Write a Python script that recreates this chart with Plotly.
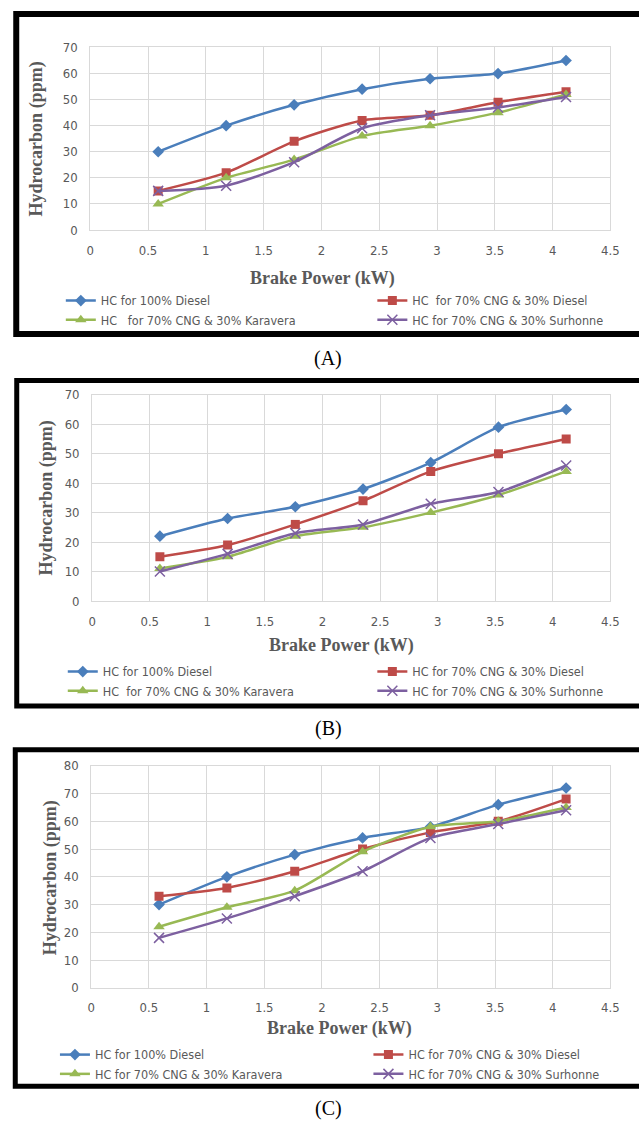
import plotly.graph_objects as go

W, H = 639, 1130

# ---------------- data ----------------
brake_power = [0.588, 1.176, 1.764, 2.352, 2.94, 3.528, 4.116]
x_ticks = [0, 0.5, 1, 1.5, 2, 2.5, 3, 3.5, 4, 4.5]

A_names = ["HC for 100% Diesel",
           "HC\u00a0\u00a0for 70% CNG & 30% Diesel",
           "HC\u00a0\u00a0\u00a0for 70% CNG & 30% Karavera",
           "HC for 70% CNG & 30% Surhonne"]
B_names = ["HC for 100% Diesel",
           "HC for 70% CNG & 30% Diesel",
           "HC\u00a0\u00a0for 70% CNG & 30% Karavera",
           "HC for 70% CNG & 30% Surhonne"]
C_names = ["HC for 100% Diesel",
           "HC for 70% CNG & 30% Diesel",
           "HC for 70% CNG & 30% Karavera",
           "HC for 70% CNG & 30% Surhonne"]

A_diesel = [30, 40, 48, 54, 58, 60, 65]
A_cng_diesel = [15, 22, 34, 42, 44, 49, 53]
A_karavera = [10, 20, 27, 36, 40, 45, 52]
A_surhonne = [15, 17, 26, 39, 44, 47, 51]

B_diesel = [22, 28, 32, 38, 47, 59, 65]
B_cng_diesel = [15, 19, 26, 34, 44, 50, 55]
B_karavera = [11, 15, 22, 25, 30, 36, 44]
B_surhonne = [10, 16, 23, 26, 33, 37, 46]

C_diesel = [30, 40, 48, 54, 58, 66, 72]
C_cng_diesel = [33, 36, 42, 50, 56, 60, 68]
C_karavera = [22, 29, 35, 49, 58, 60, 65]
C_surhonne = [18, 25, 33, 42, 54, 59, 64]

panel_labels = ["(A)", "(B)", "(C)"]
y_max = [70, 70, 80]

# ---------------- styles ----------------
colors = ["#4A7EBB", "#BE4B48", "#98B954", "#7D60A0"]
symbols = ["diamond", "square", "triangle-up", "x-thin"]
msizes = [9, 9, 10, 10]
GRAY = "#595959"
GRID = "#D9D9D9"
SANS = "Liberation Sans Narrow, DejaVu Sans Condensed, Arial Narrow, Liberation Sans, sans-serif"
SERIF = "Liberation Serif, Times New Roman, serif"

# layout in pixels for each panel
panels = [
    dict(px=(88, 619), py=(41, 226), xt=(325, 275), yt=(33, 134), leg_y=307.5,
         leg_x=(65, 383), border=(12.5, 7, 331.5, 6), lab=(331, 356)),
    dict(px=(90, 619), py=(393, 602), xt=(344, 647), yt=(43, 498), leg_y=683.5,
         leg_x=(67, 383), border=(13, 378.5, 708.3, 5), lab=(331, 731)),
    dict(px=(89, 619), py=(769, 994), xt=(342, 1035), yt=(47, 883), leg_y=1071.7,
         leg_x=(59, 379), border=(11.5, 752.7, 1093.7, 5), lab=(331, 1116)),
]

def fx(p):
    return p / W

def fy(p):
    return 1 - p / H

all_series = [
    (A_names, [A_diesel, A_cng_diesel, A_karavera, A_surhonne]),
    (B_names, [B_diesel, B_cng_diesel, B_karavera, B_surhonne]),
    (C_names, [C_diesel, C_cng_diesel, C_karavera, C_surhonne]),
]

fig = go.Figure()
layout = dict(width=W, height=H, margin=dict(l=0, r=0, t=0, b=0),
              paper_bgcolor="white", plot_bgcolor="white", showlegend=True)
annotations = []
shapes = []

for i, (names, series) in enumerate(all_series):
    p = panels[i]
    ax = "" if i == 0 else str(i + 1)
    leg_left = "legend" if i == 0 else "legend" + str(2 * i + 1)
    leg_right = "legend" + str(2 * i + 2)
    for k, (nm, vals) in enumerate(zip(names, series)):
        fig.add_trace(go.Scatter(
            x=brake_power, y=vals, name=nm, mode="lines+markers",
            xaxis="x" + ax, yaxis="y" + ax,
            line=dict(color=colors[k], width=2.5, shape="spline", smoothing=0.7),
            marker=dict(symbol=symbols[k], size=msizes[k], color=colors[k],
                        line=dict(color=colors[k], width=1.5 if k == 3 else 0)),
            legend=leg_left if k in (0, 2) else leg_right,
        ))
    layout["xaxis" + ax] = dict(
        domain=[fx(p["px"][0]), fx(p["px"][1])], anchor="y" + ax,
        range=[0, 4.5], tickvals=x_ticks, showgrid=True, gridcolor=GRID,
        showline=True, linecolor=GRID, mirror=True, zeroline=False,
        tickfont=dict(family=SANS, size=13, color=GRAY), ticklabelstandoff=8,
        fixedrange=True)
    layout["yaxis" + ax] = dict(
        domain=[fy(p["py"][1]), fy(p["py"][0])], anchor="x" + ax,
        range=[0, y_max[i]], dtick=10, showgrid=True, gridcolor=GRID,
        showline=True, linecolor=GRID, mirror=True, zeroline=False,
        tickfont=dict(family=SANS, size=13, color=GRAY), ticklabelstandoff=9,
        fixedrange=True)
    for lg, lx in ((leg_left, p["leg_x"][0]), (leg_right, p["leg_x"][1])):
        layout[lg] = dict(x=fx(lx - 7), xanchor="left", y=fy(p["leg_y"]), yanchor="middle",
                          orientation="v", bgcolor="rgba(0,0,0,0)", borderwidth=0,
                          font=dict(family=SANS, size=12.5, color=GRAY),
                          tracegroupgap=0, itemwidth=30)
    # axis titles
    annotations.append(dict(text="<b>Brake Power (kW)</b>", xref="paper", yref="paper",
                            x=fx(p["xt"][0]), y=fy(p["xt"][1]), xanchor="center", yanchor="middle",
                            showarrow=False, font=dict(family=SERIF, size=18, color=GRAY)))
    annotations.append(dict(text="<b>Hydrocarbon (ppm)</b>", xref="paper", yref="paper",
                            x=fx(p["yt"][0]), y=fy(p["yt"][1]), xanchor="center", yanchor="middle",
                            textangle=-90, showarrow=False,
                            font=dict(family=SERIF, size=18, color=GRAY)))
    annotations.append(dict(text=panel_labels[i], xref="paper", yref="paper",
                            x=fx(p["lab"][0]), y=fy(p["lab"][1]), xanchor="center", yanchor="middle",
                            showarrow=False, font=dict(family=SERIF, size=20, color="black")))
    bl, bt, bb, bw = p["border"]
    shapes.append(dict(type="rect", xref="paper", yref="paper",
                       x0=fx(bl), x1=1.1, y0=fy(bb), y1=fy(bt),
                       line=dict(color="black", width=bw), fillcolor="rgba(0,0,0,0)",
                       layer="above"))

layout["annotations"] = annotations
layout["shapes"] = shapes
fig.update_layout(**layout)
fig.write_html("out.html", config={"displayModeBar": False},
               post_script="document.body.style.margin='0';document.body.style.overflow='hidden';")
